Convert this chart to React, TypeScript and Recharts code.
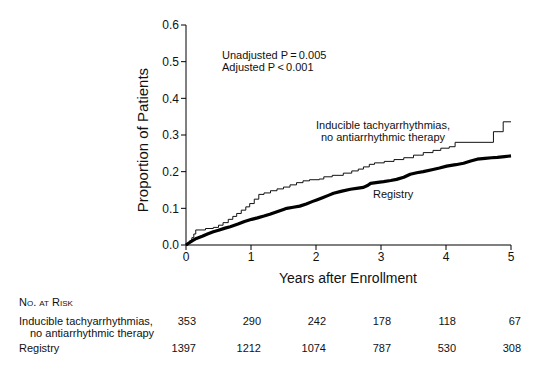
import React from "react";
import { LineChart, Line, XAxis, YAxis } from "recharts";

const xTicks = [0, 1, 2, 3, 4, 5];
const yTicks = [0, 0.1, 0.2, 0.3, 0.4, 0.5, 0.6];

const inducibleT = [0, 0.03, 0.06, 0.09, 0.12, 0.15, 0.3, 0.42, 0.5, 0.57, 0.65, 0.72, 0.78, 0.85, 0.92, 0.98, 1.05, 1.12, 1.2, 1.3, 1.4, 1.5, 1.6, 1.7, 1.8, 1.9, 2.05, 2.12, 2.25, 2.42, 2.55, 2.65, 2.73, 2.82, 2.9, 3.05, 3.2, 3.35, 3.5, 3.65, 3.8, 3.92, 4.05, 4.14, 4.73, 4.88, 5.0];
const inducibleY = [0, 0.006, 0.012, 0.02, 0.03, 0.041, 0.045, 0.048, 0.054, 0.061, 0.07, 0.078, 0.086, 0.095, 0.104, 0.113, 0.125, 0.138, 0.142, 0.148, 0.153, 0.158, 0.164, 0.17, 0.175, 0.178, 0.18, 0.186, 0.19, 0.196, 0.202, 0.207, 0.213, 0.22, 0.224, 0.228, 0.233, 0.238, 0.245, 0.252, 0.258, 0.264, 0.268, 0.28, 0.309, 0.336, 0.336];

const registryT = [0, 0.05, 0.1, 0.16, 0.25, 0.33, 0.42, 0.5, 0.6, 0.68, 0.8, 0.9, 1.01, 1.1, 1.2, 1.29, 1.4, 1.5, 1.55, 1.65, 1.75, 1.85, 1.95, 2.01, 2.1, 2.2, 2.27, 2.4, 2.53, 2.65, 2.73, 2.8, 2.84, 2.95, 3.04, 3.15, 3.24, 3.35, 3.45, 3.55, 3.65, 3.8, 3.9, 4.01, 4.15, 4.27, 4.38, 4.48, 4.6, 4.7, 4.79, 4.9, 5.0];
const registryY = [0, 0.006, 0.012, 0.018, 0.024, 0.03, 0.036, 0.04, 0.046, 0.05, 0.057, 0.064, 0.07, 0.074, 0.079, 0.084, 0.091, 0.097, 0.1, 0.103, 0.106, 0.112, 0.119, 0.123, 0.129, 0.136, 0.141, 0.147, 0.152, 0.155, 0.157, 0.163, 0.168, 0.171, 0.173, 0.176, 0.179, 0.185, 0.193, 0.197, 0.2, 0.206, 0.21, 0.215, 0.219, 0.223, 0.229, 0.234, 0.236, 0.238, 0.239, 0.241, 0.243];

const riskGroups = ["Inducible tachyarrhythmias,", "Registry"];
const riskInducible = [353, 290, 242, 178, 118, 67];
const riskRegistry = [1397, 1212, 1074, 787, 530, 308];

const inducibleData = inducibleT.map((t, i) => ({ t, y: inducibleY[i] }));
const registryData = registryT.map((t, i) => ({ t, y: registryY[i] }));

const FONT = "'Liberation Sans', Arial, Helvetica, sans-serif";
const PLOT_LEFT = 186;
const PLOT_RIGHT = 511;
const xPix = (v: number) => PLOT_LEFT + ((PLOT_RIGHT - PLOT_LEFT) * v) / 5;

const txt = (
  left: number,
  top: number,
  content: React.ReactNode,
  extra: React.CSSProperties = {}
) => (
  <div
    style={{
      position: "absolute",
      left,
      top,
      fontFamily: FONT,
      fontSize: 11,
      lineHeight: "12px",
      color: "#111",
      whiteSpace: "nowrap",
      ...extra,
    }}
  >
    {content}
  </div>
);

export default function App() {
  return (
    <div
      style={{
        position: "absolute",
        left: 0,
        top: 0,
        width: 540,
        height: 373,
        background: "#fff",
        fontFamily: FONT,
      }}
    >
      <LineChart
        width={540}
        height={300}
        margin={{ top: 25, right: 540 - PLOT_RIGHT, left: 0, bottom: 0 }}
      >
        <XAxis
          type="number"
          dataKey="t"
          domain={[0, 5]}
          ticks={xTicks}
          height={55}
          allowDuplicatedCategory={false}
          stroke="#000"
          tickSize={5}
          tick={{ fill: "#111", fontSize: 12, fontFamily: FONT }}
          tickLine={{ stroke: "#000" }}
        />
        <YAxis
          type="number"
          domain={[0, 0.6]}
          ticks={yTicks}
          width={PLOT_LEFT}
          stroke="#000"
          tickSize={5}
          tickFormatter={(v: number) => v.toFixed(1)}
          tick={{ fill: "#111", fontSize: 12, fontFamily: FONT }}
          tickLine={{ stroke: "#000" }}
        />
        <Line
          data={inducibleData}
          dataKey="y"
          type="stepAfter"
          stroke="#111"
          strokeWidth={1}
          dot={false}
          isAnimationActive={false}
        />
        <Line
          data={registryData}
          dataKey="y"
          type="linear"
          stroke="#000"
          strokeWidth={3.2}
          strokeLinejoin="round"
          dot={false}
          isAnimationActive={false}
        />
      </LineChart>

      {/* Axis titles */}
      <div
        style={{
          position: "absolute",
          left: 143 - 100,
          top: 140 - 9,
          width: 200,
          height: 18,
          lineHeight: "18px",
          textAlign: "center",
          transform: "rotate(-90deg)",
          fontFamily: FONT,
          fontSize: 15,
          color: "#111",
        }}
      >
        Proportion of Patients
      </div>
      {txt(248, 270, "Years after Enrollment", {
        width: 200,
        textAlign: "center",
        fontSize: 14,
        lineHeight: "16px",
      })}

      {/* Annotations */}
      {txt(222, 49, "Unadjusted P\u2009=\u20090.005")}
      {txt(222, 61, "Adjusted P\u2009<\u20090.001")}
      {txt(283, 119, <>Inducible tachyarrhythmias,<br />no antiarrhythmic therapy</>, {
        width: 200,
        textAlign: "center",
      })}
      {txt(373, 188, "Registry")}

      {/* Number at risk */}
      {txt(19, 296, "No. at Risk", { fontVariant: "small-caps", fontSize: 11 })}
      {txt(19, 315, riskGroups[0])}
      {txt(30, 327, "no antiarrhythmic therapy")}
      {txt(19, 342, riskGroups[1])}
      {riskInducible.map((n, i) =>
        txt(xPix(xTicks[i]) + 10 - 40, 315, String(n), { width: 40, textAlign: "right" })
      )}
      {riskRegistry.map((n, i) =>
        txt(xPix(xTicks[i]) + 10 - 40, 342, String(n), { width: 40, textAlign: "right" })
      )}
    </div>
  );
}
